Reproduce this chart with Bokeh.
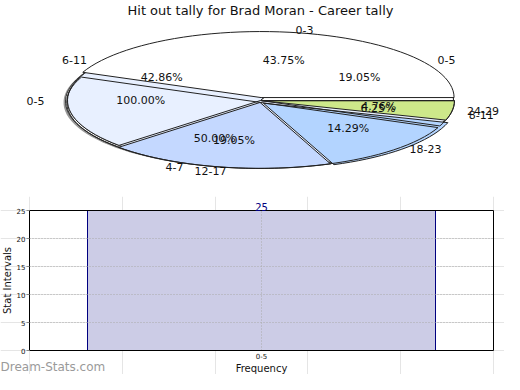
import math
from bokeh.plotting import figure
from bokeh.models import ColumnDataSource, Range1d, Label, LabelSet, FixedTicker, LinearAxis
from bokeh.core.properties import value
from bokeh.embed import file_html
from bokeh.resources import INLINE

# ---------------- data ----------------
title_text = "Hit out tally for Brad Moran - Career tally"
pie_a_labels = ["0-3", "4-7", "8-11"]
pie_a_values = [43.75, 50.00, 6.25]
pie_b_labels = ["0-5", "6-11", "12-17", "18-23", "24-29"]
pie_b_values = [19.05, 42.86, 19.05, 14.29, 4.76]
pie_c_labels = ["0-5"]
pie_c_values = [100.00]
bar_categories = ["0-5"]
bar_values = [25]
y_ticks = [0, 5, 10, 15, 20, 25]
y_label = "Stat Intervals"
x_label = "Frequency"
watermark = "Dream-Stats.com"

# ---------------- style / layout ----------------
FONT = "DejaVu Sans"
W = 504
H1 = 196
H2 = 178
CX, CY = 260, 100
RX, RY = 193, 66

pie_a_colors = ["#ffffff", "#ffffff", "#ffffff"]
pie_a_alpha = [1.0, 0.0, 0.0]
pie_a_explode = [3, 2, 1]
pie_b_colors = ["#ffffff", "#e8f0ff", "#c4d8ff", "#b3d4ff", "#cde88a"]
pie_b_explode = [0, 0, 2, 4, 1]
pie_c_colors = ["#e8f0ff"]


def slices(values, explode, dx=0.0, dy=0.0):
    total = sum(values)
    out = []
    a0 = 0.0
    for v, e in zip(values, explode):
        a1 = a0 + 2 * math.pi * v / total
        mid = (a0 + a1) / 2
        ox, oy = e * math.cos(mid) + dx, -e * math.sin(mid) + dy
        n = max(4, int(120 * (a1 - a0) / (2 * math.pi)) + 2)
        ts = [a0 + (a1 - a0) * i / n for i in range(n + 1)]
        xs = [CX + ox] + [CX + ox + RX * math.cos(t) for t in ts]
        ys = [CY + oy] + [CY + oy - RY * math.sin(t) for t in ts]
        out.append((xs, ys, mid))
        a0 = a1
    return out


# ================= pie figure (frame = whole figure, y downwards) =================
p1 = figure(width=W, height=H1, x_range=Range1d(0, W), y_range=Range1d(H1, 0),
            output_backend="svg", toolbar_location=None,
            x_axis_location=None, y_axis_location=None, min_border=0)
p1.outline_line_color = None
p1.grid.visible = False
p1.background_fill_color = "white"
p1.border_fill_color = "white"

sh = slices(pie_c_values, [0], dx=-4, dy=2)
p1.patches(xs=[s[0] for s in sh], ys=[s[1] for s in sh], fill_color="#555555",
           fill_alpha=0.6, line_color=None)
rim = slices(pie_c_values, [0], dx=-2, dy=1)
p1.patches(xs=[s[0] for s in rim], ys=[s[1] for s in rim], fill_color="#ffffff",
           line_color="#333333", line_width=1)

sc = slices(pie_c_values, [0])
p1.patches(xs=[s[0] for s in sc], ys=[s[1] for s in sc], fill_color=pie_c_colors,
           line_color="#222222", line_width=1)

sb = slices(pie_b_values, pie_b_explode)
p1.patches(xs=[s[0] for s in sb], ys=[s[1] for s in sb], fill_color=pie_b_colors,
           line_color="#222222", line_width=1)

sa = slices(pie_a_values, pie_a_explode)
p1.patches(xs=[s[0] for s in sa], ys=[s[1] for s in sa], fill_color=pie_a_colors,
           fill_alpha=pie_a_alpha, line_color="#222222", line_width=1)

for sl, vals, labs in ((sa, pie_a_values, pie_a_labels),
                       (sb, pie_b_values, pie_b_labels),
                       (sc, pie_c_values, pie_c_labels)):
    for (xs, ys, mid), v, lab in zip(sl, vals, labs):
        p1.add_layout(Label(x=CX + 0.62 * RX * math.cos(mid), y=CY - 0.62 * RY * math.sin(mid),
                            text=f"{v:.2f}%", text_align="center", text_baseline="middle",
                            text_font=FONT, text_font_size="11px", text_color="#111111"))
        p1.add_layout(Label(x=CX + (RX + 32) * math.cos(mid), y=CY - (RY + 6) * math.sin(mid),
                            text=lab, text_align="center", text_baseline="middle",
                            text_font=FONT, text_font_size="11px", text_color="#111111"))

p1.add_layout(Label(x=CX, y=10, text=title_text, text_align="center",
                    text_baseline="middle", text_font=FONT,
                    text_font_size="13px", text_color="#111111"))

# ================= bar figure (frame = whole figure, axes fixed inside) =================
N = len(bar_categories)
BOX_L, BOX_R = 29, 493          # plot box, px inside the figure
BOX_T, BOX_B = 14, 154
YMAX = max(y_ticks)
sx = N / (BOX_R - BOX_L)
sy = YMAX / (BOX_B - BOX_T)
p2 = figure(width=W, height=H2,
            x_range=Range1d(-BOX_L * sx, N + (W - BOX_R) * sx),
            y_range=Range1d(-(H2 - BOX_B) * sy, YMAX + BOX_T * sy),
            output_backend="svg", toolbar_location=None, min_border=0,
            x_axis_location=None, y_axis_location=None)
p2.background_fill_color = "white"
p2.border_fill_color = "white"
p2.outline_line_color = None

xc = [i + 0.5 for i in range(N)]
bsrc = ColumnDataSource(dict(x=xc, val=bar_values, t=[str(v) for v in bar_values]))
p2.vbar(x="x", top="val", width=0.75, source=bsrc, fill_color="#ccccE6",
        line_color="#000080", line_width=1)

# dotted grid inside the box
gy = [t for t in y_ticks if 0 < t < YMAX]
p2.segment(x0=[0] * len(gy), x1=[N] * len(gy), y0=gy, y1=gy,
           line_color="#aaaaaa", line_dash="1 2", line_width=1)
p2.segment(x0=xc, x1=xc, y0=[0] * N, y1=[YMAX] * N,
           line_color="#aaaaaa", line_dash="1 2", line_width=1)
# plot box
p2.quad(left=[0], right=[N], bottom=[0], top=[YMAX], fill_color=None,
        line_color="black", line_width=1)

p2.add_layout(LabelSet(x="x", y="val", text="t", source=bsrc,
                       text_align="center", text_baseline="bottom", y_offset=0,
                       text_font=value(FONT), text_font_size="10px", text_color="#000080"))

yax = LinearAxis(fixed_location=0, bounds=(0, YMAX), ticker=FixedTicker(ticks=y_ticks),
                 axis_label=y_label)
xax = LinearAxis(fixed_location=0, bounds=(0, N), ticker=FixedTicker(ticks=xc),
                 major_label_overrides={c: lab for c, lab in zip(xc, bar_categories)},
                 axis_label=x_label)
for ax in (xax, yax):
    ax.axis_label_text_font = FONT
    ax.axis_label_text_font_size = "10px"
    ax.axis_label_text_font_style = "normal"
    ax.axis_label_text_color = "#111111"
    ax.axis_label_standoff = 1
    ax.major_label_text_font = FONT
    ax.major_label_text_font_size = "7px"
    ax.major_label_text_color = "#111111"
    ax.major_label_standoff = 1
    ax.axis_line_color = None
    ax.minor_tick_line_color = None
    ax.major_tick_in = 0
yax.major_tick_out = 3
yax.major_tick_line_color = "#888888"
xax.major_tick_out = 0
xax.major_label_standoff = 2
p2.add_layout(yax, "left")
p2.add_layout(xax, "below")

p2.add_layout(Label(x=0, y=1, x_units="screen", y_units="screen",
                    text=watermark, text_font=FONT, text_font_size="12px",
                    text_color="#9a9a9a", text_baseline="bottom"))

open("out.html", "w").write(file_html([p1, p2], INLINE))
